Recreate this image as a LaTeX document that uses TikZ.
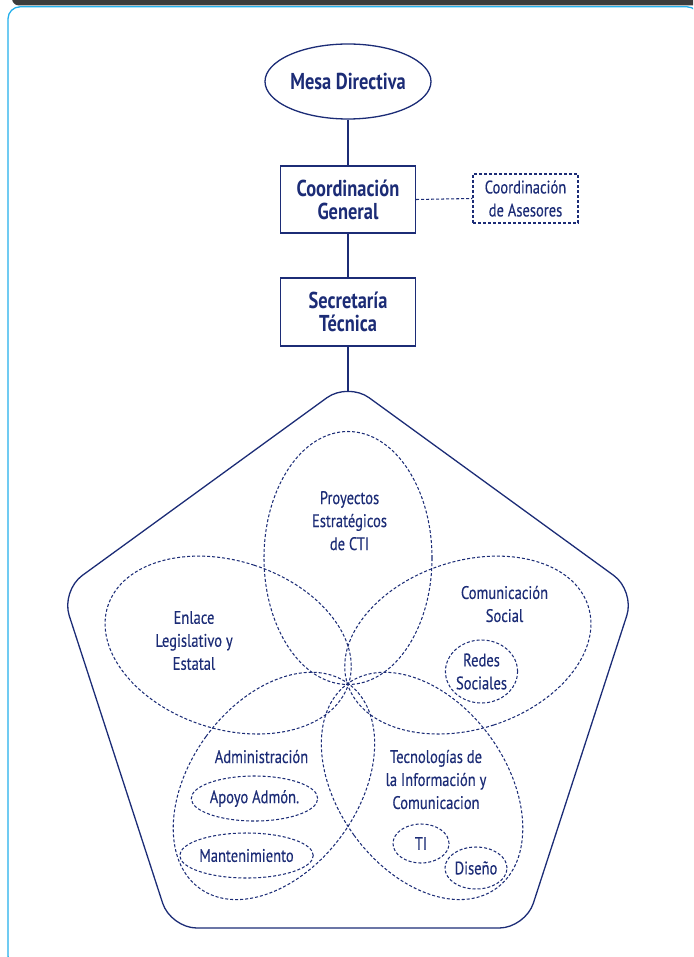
\documentclass[tikz,border=0pt]{standalone}
\usepackage{fontspec}
\setmainfont{PT Sans}[FakeStretch=0.8]
\newfontfamily\regfont{PT Sans}[FakeStretch=0.8,FakeBold=0.3]
\usetikzlibrary{shapes.geometric}
\definecolor{orgnavy}{RGB}{28,44,118}
\definecolor{framecyan}{RGB}{35,175,235}
\definecolor{bargray}{RGB}{60,60,60}
\begin{document}
\begin{tikzpicture}[x=1pt,y=1pt,
  lineN/.style={draw=orgnavy, line width=1.3pt},
  dashN/.style={draw=orgnavy, line width=1.05pt, dash pattern=on 3pt off 2pt},
  boldtxt/.style={font=\bfseries\fontsize{23}{23}\selectfont, text=orgnavy, align=center},
  regtxt/.style={font=\regfont\fontsize{18.2}{23}\selectfont, text=orgnavy, align=center},
]
\clip (0,0) rectangle (693,-957);
\fill[bargray, rounded corners=7pt] (12,12) rectangle (701,-5.5);
\draw[framecyan, line width=1.3pt, rounded corners=12pt] (8,-6.8) rectangle (699,-968);

\node[lineN, ellipse, boldtxt, minimum width=166pt, minimum height=75pt, inner sep=0pt] (mesa) at (348,-81.5) {Mesa Directiva};
\node[lineN, rectangle, boldtxt, minimum width=135pt, minimum height=67pt, inner sep=0pt] (coord) at (348,-199.5) {Coordinación\\General};
\node[dashN, rectangle, regtxt, minimum width=105pt, minimum height=49pt, inner sep=0pt] (ases) at (525.5,-198.5) {Coordinación\\de Asesores};
\node[lineN, rectangle, boldtxt, minimum width=135pt, minimum height=68pt, inner sep=0pt] (sec) at (348,-312) {Secretaría\\Técnica};

\coordinate (C) at (348,-684);
\coordinate (ptop) at (348,-391);
\begin{scope}[shift={(C)}]
  \draw[lineN, rounded corners=26pt] (0,-244) -- (306:301.6) -- (18:301.6) -- (90:301.6) -- (162:301.6) -- (234:301.6) -- cycle;
  \foreach \a in {0,72,144,216,288}
    \draw[dashN, rotate=\a] (0,126) ellipse [x radius=84, y radius=126.5];
\end{scope}

\draw[lineN] (mesa.south) -- (coord.north);
\draw[lineN] (coord.south) -- (sec.north);
\draw[lineN] (sec.south) -- (ptop);
\draw[dashN] (coord.east) -- (ases.west);

\node[regtxt] (tproy) at (349.5,-520.7) {Proyectos\\Estratégicos\\de CTI};
\node[regtxt] (tenl) at (194,-640.5) {Enlace\\Legislativo y\\Estatal};
\node[regtxt] (tcom) at (504.5,-604) {Comunicación\\Social};
\node[dashN, ellipse, regtxt, minimum width=71pt, minimum height=63pt, inner sep=0pt] (redes) at (481.5,-671.5) {Redes\\Sociales};
\node[regtxt, anchor=base] (tadm) at (261.5,-763) {Administración};
\node[dashN, ellipse, regtxt, minimum width=111pt, minimum height=45pt, inner sep=0pt] (apoyo) at (254.5,-798.5) {Apoyo Admón.};
\node[dashN, ellipse, regtxt, minimum width=113pt, minimum height=45pt, inner sep=0pt] (mant) at (246.5,-855.5) {Mantenimiento};
\node[regtxt] (ttec) at (436,-779.5) {Tecnologías de\\la Información y\\Comunicacion};
\node[dashN, ellipse, regtxt, minimum width=56pt, minimum height=39pt, inner sep=0pt] (ti) at (421,-843.5) {TI};
\node[dashN, ellipse, regtxt, minimum width=62pt, minimum height=42pt, inner sep=0pt] (dis) at (476,-868) {Diseño};
\end{tikzpicture}
\end{document}
